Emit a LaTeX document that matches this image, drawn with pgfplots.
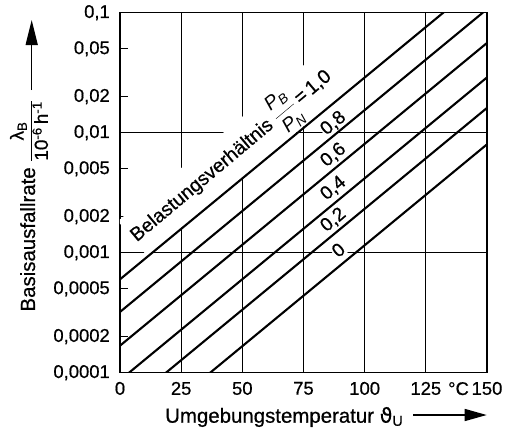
\documentclass[border=0pt]{standalone}
\usepackage{pgfplots}
\pgfplotsset{compat=1.18}
\usepackage{fontspec}
\setmainfont{Liberation Sans}[UprightFeatures={FakeBold=0.6}]
\newfontfamily\dejavu{DejaVu Sans}[FakeBold=0.6]
\usetikzlibrary{arrows.meta}
\begin{document}
\begin{tikzpicture}[x=1bp,y=1bp]
\path[use as bounding box] (-120,-56.3) rectangle (391,372.7);
\begin{axis}[
  at={(0,0)}, anchor=south west,
  scale only axis, width=367bp, height=360bp,
  xmin=0, xmax=150, ymode=log, ymin=1e-4, ymax=0.1,
  axis line style={line width=1.3bp, black},
  xtick={0,25,50,75,100,125,150},
  xticklabels={0,25,50,75,100,125,150},
  xmajorgrids,
  xtick style={draw=none},
  ytick={1e-4,2e-4,5e-4,1e-3,2e-3,5e-3,1e-2,2e-2,5e-2,1e-1},
  yticklabels={{0,0001},{0,0002},{0,0005},{0,001},{0,002},{0,005},{0,01},{0,02},{0,05},{0,1}},
  ytick pos=left, xtick pos=bottom, tick align=inside,
  ytick style={line width=0.9bp, black},
  major tick length=8bp,
  yminorticks=false,
  extra y ticks={1e-3,1e-2},
  extra y tick labels={},
  extra y tick style={grid=major, major tick length=0pt},
  grid style={line width=0.9bp, black},
  xticklabel style={font=\fontsize{18.5}{20}\selectfont, inner sep=0pt, anchor=north},
  xticklabel shift=9bp,
  yticklabel style={font=\fontsize{18.5}{20}\selectfont, inner sep=0pt, anchor=east},
  yticklabel shift=10bp,
]
\node[rotate=40, anchor=base west, fill=white, inner sep=1bp, font=\fontsize{19.5}{21}\selectfont]
  at (rel axis cs:0.0436,0.3603)
  {Belastungsverhältnis $\displaystyle\frac{\mbox{\itshape P\textsubscript{B}}}{\mbox{\itshape P\textsubscript{N}}}$\,=\,1,0};
\node[rotate=40, fill=white, inner sep=1bp, font=\fontsize{19}{20}\selectfont] at (rel axis cs:0.5812,0.6928) {0,8};
\node[rotate=40, fill=white, inner sep=1bp, font=\fontsize{19}{20}\selectfont] at (rel axis cs:0.5812,0.6047) {0,6};
\node[rotate=40, fill=white, inner sep=1bp, font=\fontsize{19}{20}\selectfont] at (rel axis cs:0.5812,0.5122) {0,4};
\node[rotate=40, fill=white, inner sep=1bp, font=\fontsize{19}{20}\selectfont] at (rel axis cs:0.5812,0.4242) {0,2};
\node[rotate=40, fill=white, inner sep=1bp, font=\fontsize{19}{20}\selectfont] at (rel axis cs:0.5948,0.3408) {0};
\addplot[black, line width=2.1bp] coordinates {(0,6.00e-4) (150,0.200)};
\addplot[black, line width=2.1bp] coordinates {(0,3.21e-4) (150,0.107)};
\addplot[black, line width=2.1bp] coordinates {(0,1.68e-4) (150,0.0560)};
\addplot[black, line width=2.1bp] coordinates {(0,8.67e-5) (150,0.0289)};
\addplot[black, line width=2.1bp] coordinates {(0,4.83e-5) (150,0.0161)};
\addplot[black, line width=2.1bp] coordinates {(0,2.40e-5) (150,0.0080)};
\end{axis}
\node[anchor=base, font=\fontsize{18.5}{20}\selectfont] at (338.5,-22.3) {°C};
\node[anchor=base west, font=\fontsize{20.5}{22}\selectfont] at (41.7,-50) {Umgebungstemperatur {\dejavu ϑ}\textsubscript{U}};
\draw[line width=1.4bp, -{Triangle[length=22bp, width=12bp]}] (293,-42.3) -- (366.7,-42.3);
\node[rotate=90, anchor=base west, font=\fontsize{20.5}{22}\selectfont] at (-85,57.7) {Basisausfallrate};
\node[rotate=90, font=\fontsize{19}{20}\selectfont] at (-91,241.7) {$\displaystyle\frac{\mbox{λ\textsubscript{B}}}{\mbox{10\textsuperscript{-6}\,h\textsuperscript{-1}}}$};
\draw[line width=1.4bp, -{Triangle[length=25bp, width=12bp]}] (-88.3,282.7) -- (-88.3,352.7);
\end{tikzpicture}
\end{document}
